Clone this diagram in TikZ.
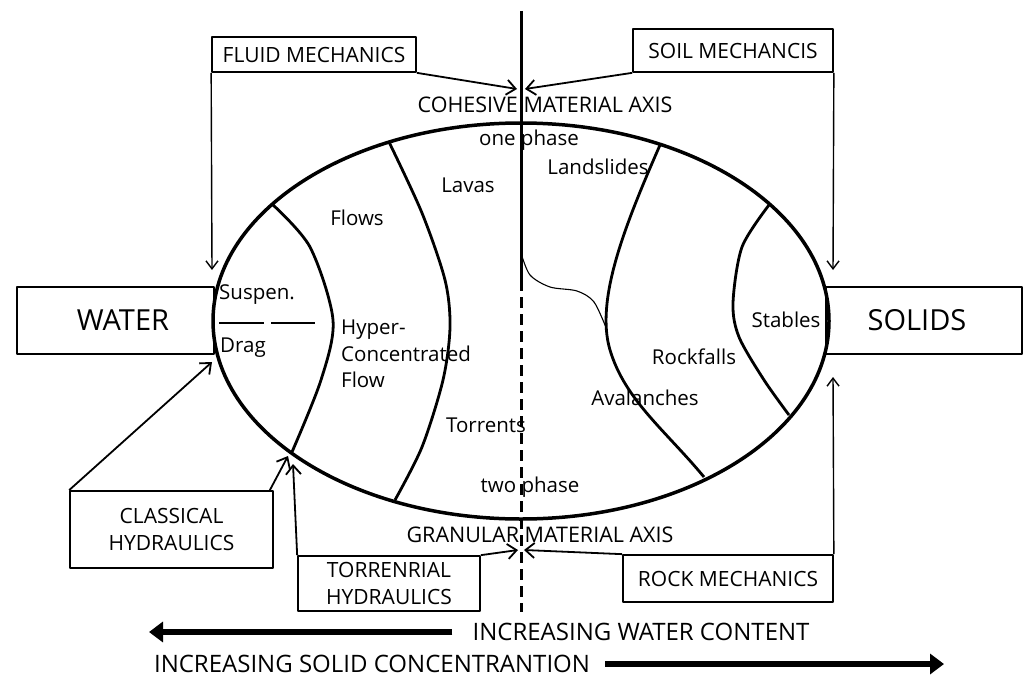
\documentclass[tikz,border=0pt]{standalone}
\usepackage{fontspec}
\setmainfont{Open Sans}
\usetikzlibrary{arrows.meta, shapes.geometric}

\begin{document}
\begin{tikzpicture}[
    x=1pt, y=-1pt, line join=round,
    lbl/.style      ={inner sep=0pt, font=\fontsize{20.5}{26.5}\selectfont},
    cap_lbl/.style  ={inner sep=0pt, font=\fontsize{21.5}{27}\selectfont},
    big_lbl/.style  ={inner sep=0pt, font=\fontsize{29}{32}\selectfont},
    trend_lbl/.style={inner sep=0pt, font=\fontsize{24}{28}\selectfont},
    base_box/.style ={draw, line width=1.7pt, inner sep=0pt, align=center, font=\fontsize{21}{26.5}\selectfont},
    region/.style   ={line width=2.8pt},
    feed/.style     ={line width=1.8pt, -{Straight Barb[length=9pt, width=15pt, line width=1.8pt]}},
    feed_thin/.style={line width=1.4pt, -{Straight Barb[length=8pt, width=12pt, line width=1.4pt]}},
    trend/.style    ={line width=6pt, -{Triangle[length=14pt, width=20pt]}}
]
\useasboundingbox (0,0) rectangle (1024,677);

% Material body
\node (body) [ellipse, draw, line width=3.5pt, minimum width=616, minimum height=396] at (521,321) {};

% Region borders
\draw[region] plot[smooth] coordinates {(272,204) (310,247) (333,320) (321,380) (292,452)};
\draw[region] plot[smooth] coordinates {(389,142) (422,213) (445,280) (450,327) (443,380) (422,447) (395,500)};
\draw[region] (660,145) .. controls (625,225) and (595,300) .. (610,350) .. controls (625,400) and (665,430) .. (704,477);
\draw[region] plot[smooth] coordinates {(769,205) (742,247) (733,303) (739,337) (764,380) (789,415)};
\draw[line width=1.1pt] plot[smooth] coordinates {(521,253) (530,275) (550,287) (577,291) (594,302) (607,330)};
\draw[line width=1.2pt] (219,323) -- (264,323) (271,323) -- (315,323);

% Axis
\coordinate (axis_top) at (521,11);
\coordinate (axis_mid) at (521,280);
\coordinate (axis_btm) at (521,612);
\draw[line width=3pt] (axis_top) -- (axis_mid);
\draw[line width=3pt, dash pattern=on 11pt off 6pt] (axis_mid) -- (axis_btm);

% Region labels
\node[cap_lbl] (cohesive) at (545,105) {COHESIVE MATERIAL AXIS};
\node[lbl] (one_ph) at (529,140) {one phase};
\node[lbl] (landslides) at (598,167) {Landslides};
\node[lbl] (lavas) at (468,185) {Lavas};
\node[lbl] (flows) at (357,218) {Flows};
\node[lbl, anchor=west] (suspen) at (219,295) {Suspen.};
\node[lbl, anchor=west] (drag) at (220,348) {Drag};
\node[lbl, anchor=west, align=left] (hyper) at (341,354) {Hyper-\\Concentrated\\Flow};
\node[lbl] (torrents) at (486,425) {Torrents};
\node[lbl] (two_ph) at (530,487) {two phase};
\node[cap_lbl] (granular) at (540,535) {GRANULAR MATERIAL AXIS};
\node[lbl] (stables) at (786,320) {Stables};
\node[lbl] (rockfalls) at (694,357) {Rockfalls};
\node[lbl] (avalanches) at (645,398) {Avalanches};

% End members
\node[base_box, minimum width=197, minimum height=67] (water) at (115.5,320.5) {};
\node[big_lbl] (water_txt) at (123,320) {WATER};
\node[base_box, minimum width=196, minimum height=67] (solids) at (924,320.5) {};
\node[big_lbl] (solids_txt) at (917,320) {SOLIDS};

% Disciplines
\node[base_box, minimum width=204, minimum height=35] (fluid) at (314,54.5) {FLUID MECHANICS};
\node[base_box, minimum width=200, minimum height=43] (soil) at (733,50.5) {SOIL MECHANCIS};
\node[base_box, minimum width=203, minimum height=77] (classic) at (171.5,529.5) {CLASSICAL\\HYDRAULICS};
\node[base_box, minimum width=182, minimum height=55] (torr) at (389,583.5) {TORRENRIAL\\HYDRAULICS};
\node[base_box, minimum width=210, minimum height=47] (rock) at (728,578.5) {ROCK MECHANICS};

% Arrow tips
\coordinate (cohesive_l) at (517,89);
\coordinate (cohesive_r) at (525,89);
\coordinate (fluid_tip) at (212,270);
\coordinate (soil_tip) at (833,270);
\coordinate (classic_tip) at (212,362);
\coordinate (classic_tip2) at (288,456);
\coordinate (torr_tip) at (293,464);
\coordinate (granular_l) at (518,550);
\coordinate (granular_r) at (524,550);
\coordinate (rock_tip) at (833,377);

\draw[feed] (fluid.south east) -- (cohesive_l);
\draw[feed] (soil.south west) -- (cohesive_r);
\draw[feed_thin] (fluid.south west) -- (fluid_tip);
\draw[feed_thin] (soil.south east) -- (soil_tip);
\draw[feed] (classic.north west) -- (classic_tip);
\draw[feed] ([xshift=-4pt]classic.north east) -- (classic_tip2);
\draw[feed] (torr.north west) -- (torr_tip);
\draw[feed] (torr.north east) -- (granular_l);
\draw[feed] (rock.north west) -- (granular_r);
\draw[feed_thin] (rock.north east) -- (rock_tip);

% Trends
\node[trend_lbl] (water_trend) at (641,632) {INCREASING WATER CONTENT};
\node[trend_lbl] (solid_trend) at (372,664) {INCREASING SOLID CONCENTRANTION};
\coordinate (water_end) at (149,632);
\coordinate (solid_end) at (944,664);
\draw[trend] ([xshift=-20pt]water_trend.west) -- (water_end);
\draw[trend] ([xshift=15pt]solid_trend.east) -- (solid_end);

\end{tikzpicture}
\end{document}
